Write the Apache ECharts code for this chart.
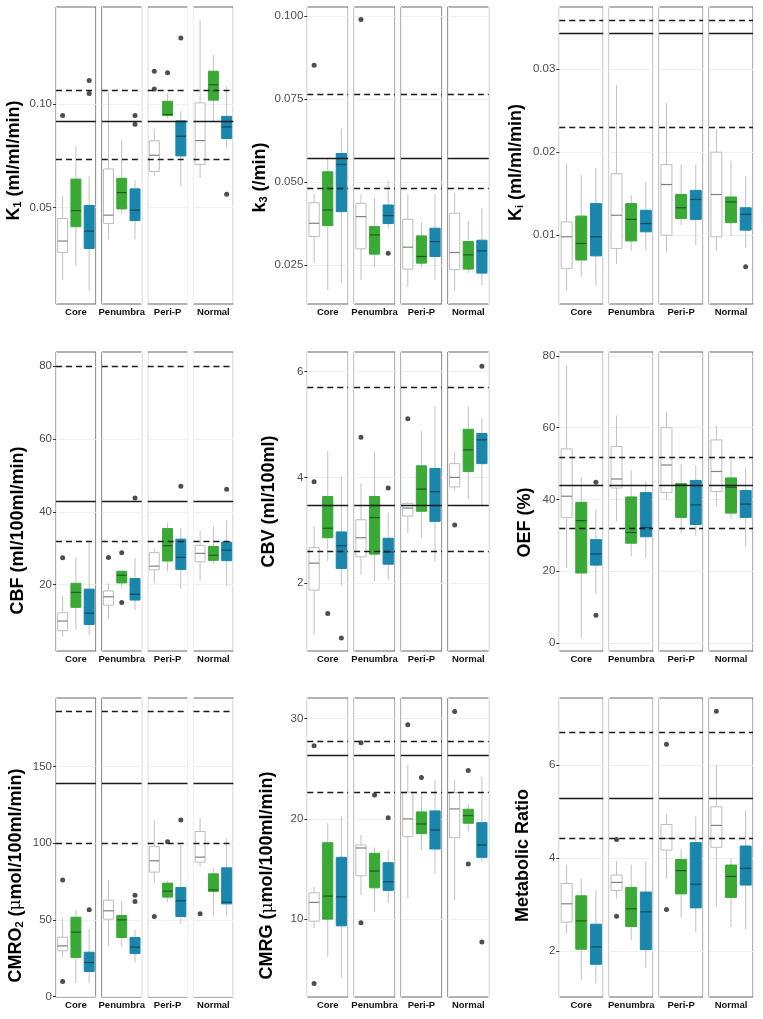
<!DOCTYPE html>
<html><head><meta charset="utf-8">
<script src="https://cdn.jsdelivr.net/npm/echarts@6/dist/echarts.min.js"></script>
<style>html,body{margin:0;padding:0;background:#fff}#chart{width:763px;height:1019px}</style>
</head><body><div id="chart"></div>
<script>
// ---------- categories ----------
const facets = ['Core', 'Penumbra', 'Peri-P', 'Normal'];
const groups = ['Group 1', 'Group 2', 'Group 3'];

// ---------- data: per facet [white, green, blue], each [min, q1, median, q3, max] ----------
const k1Boxes = [
  [[0.0149,0.0283,0.0338,0.0447,0.0556],[0.0217,0.0407,0.0485,0.0637,0.0796],[0.0098,0.0302,0.0386,0.0510,0.0651]],
  [[0.0346,0.0423,0.0463,0.0686,0.1058],[0.0468,0.0493,0.0572,0.0641,0.0825],[0.0346,0.0437,0.0487,0.0590,0.0632]],
  [[0.0653,0.0674,0.0752,0.0822,0.0881],[0.0930,0.0944,0.0949,0.1013,0.1050],[0.0603,0.0749,0.0844,0.0918,0.0965]],
  [[0.0643,0.0707,0.0823,0.1005,0.1404],[0.0913,0.1018,0.1093,0.1158,0.1235],[0.0785,0.0833,0.0889,0.0940,0.1085]]
];
const k1Outliers = [[0,0,0.0944],[0,2,0.1113],[0,2,0.1050],[1,2,0.0944],[1,2,0.0902],[2,0,0.1158],[2,0,0.1072],[2,1,0.1150],[2,2,0.1318],[3,2,0.0564]];
const k1Ref = [0.0917, 0.0735, 0.1068];
const k1Ticks = [0.05, 0.10];

const k3Boxes = [
  [[0.0256,0.0336,0.0376,0.0438,0.0466],[0.0175,0.0369,0.0416,0.0531,0.0570],[0.0196,0.0411,0.0553,0.0586,0.0661]],
  [[0.0205,0.0299,0.0396,0.0436,0.0463],[0.0245,0.0283,0.0341,0.0366,0.0451],[0.0360,0.0375,0.0399,0.0431,0.0504]],
  [[0.0185,0.0238,0.0304,0.0388,0.0463],[0.0245,0.0256,0.0276,0.0338,0.0379],[0.0205,0.0276,0.0321,0.0361,0.0464]],
  [[0.0173,0.0236,0.0288,0.0406,0.0469],[0.0226,0.0238,0.0281,0.0321,0.0383],[0.0190,0.0226,0.0293,0.0325,0.0421]]
];
const k3Outliers = [[0,0,0.0852],[1,0,0.0989],[1,2,0.0286]];
const k3Ref = [0.0572, 0.0481, 0.0765];
const k3Ticks = [0.025, 0.050, 0.075, 0.100];

const kiBoxes = [
  [[0.0033,0.0060,0.0098,0.0116,0.0186],[0.0050,0.0070,0.0090,0.0123,0.0172],[0.0039,0.0075,0.0098,0.0138,0.0181]],
  [[0.0065,0.0084,0.0124,0.0174,0.0281],[0.0081,0.0093,0.0119,0.0138,0.0148],[0.0081,0.0104,0.0114,0.0130,0.0164]],
  [[0.0080,0.0100,0.0161,0.0185,0.0259],[0.0112,0.0120,0.0133,0.0149,0.0185],[0.0088,0.0119,0.0143,0.0154,0.0185]],
  [[0.0081,0.0098,0.0149,0.0200,0.0228],[0.0099,0.0115,0.0140,0.0146,0.0190],[0.0085,0.0106,0.0125,0.0133,0.0171]]
];
const kiOutliers = [[3,2,0.0062]];
const kiRef = [0.0343, 0.0230, 0.0359];
const kiTicks = [0.01, 0.02, 0.03];

const cbfBoxes = [
  [[5.75,7.4,10.05,12.33,16.9],[7.8,13.8,17.9,20.4,27.5],[6.2,9.1,12.2,18.8,31.8]],
  [[10.6,14.4,16.7,18.3,20.4],[19.0,20.5,22.6,23.7,24.0],[13.1,15.8,17.4,21.7,27.4]],
  [[20.4,24.1,25.1,28.8,30.0],[23.7,26.5,30.7,35.4,37.1],[18.8,24.2,27.5,32.5,35.6]],
  [[21.1,26.3,28.6,30.8,34.7],[25.8,26.7,28.1,30.5,36.1],[19.7,26.6,29.5,31.7,37.7]]
];
const cbfOutliers = [[0,0,27.4],[1,0,27.5],[1,1,28.8],[1,1,15.1],[1,2,43.8],[2,2,47.0],[3,2,46.2]];
const cbfRef = [43.0, 32.0, 80.0];
const cbfTicks = [20, 40, 60, 80];

const cbvBoxes = [
  [[1.02,1.87,2.38,2.675,3.085],[2.42,2.86,3.04,3.64,4.50],[1.95,2.28,2.71,2.97,4.0]],
  [[2.16,2.50,2.86,3.20,3.89],[2.04,2.55,3.24,3.64,4.49],[2.06,2.36,2.59,2.85,3.34]],
  [[2.95,3.27,3.42,3.51,3.53],[2.86,3.36,3.78,4.22,4.88],[2.42,3.17,3.73,4.17,5.34]],
  [[3.75,3.82,4.0,4.26,4.47],[3.59,4.11,4.52,4.91,5.34],[3.46,4.26,4.71,4.83,5.12]]
];
const cbvOutliers = [[0,0,3.92],[0,1,1.43],[0,2,0.965],[1,0,4.76],[1,2,3.80],[2,0,5.11],[3,0,3.10],[3,2,6.10]];
const cbvRef = [3.47, 2.6, 5.7];
const cbvTicks = [2, 4, 6];

const oefBoxes = [
  [[20.9,35.0,40.9,54.1,77.4],[1.5,19.5,34.1,39.2,46.2],[13.6,21.7,24.8,28.8,37.3]],
  [[33.9,43.2,45.7,54.8,63.4],[24.1,27.8,30.8,40.7,48.1],[23.6,29.6,32.2,41.9,45.0]],
  [[39.9,41.9,49.6,60.0,64.4],[30.6,35.0,44.05,44.4,49.9],[29.9,33.0,38.5,45.3,49.5]],
  [[38.1,42.2,47.8,56.6,60.6],[34.6,36.2,43.4,46.0,52.2],[26.8,35.0,38.7,42.5,49.0]]
];
const oefOutliers = [[0,2,44.8],[0,2,7.7]];
const oefRef = [44.05, 32.0, 51.8];
const oefTicks = [0, 20, 40, 60, 80];

const cmro2Boxes = [
  [[25.4,29.8,33.0,38.7,51.1],[8.7,25.4,42.0,51.7,56.5],[8.7,16.3,22.2,28.9,44.1]],
  [[33.0,50.4,55.9,62.8,76.1],[32.6,38.5,50.0,52.8,62.4],[22.2,28.0,32.2,38.5,43.5]],
  [[73.9,81.1,88.5,97.8,115.2],[61.5,64.8,68.7,73.9,75.4],[47.2,52.2,62.4,71.1,98.9]],
  [[84.8,87.6,90.9,107.6,116.3],[52.2,68.5,69.6,80.0,83.7],[52.2,60.4,61.5,83.9,103.3]]
];
const cmro2Outliers = [[0,0,75.9],[0,0,9.8],[0,2,56.5],[1,2,66.1],[1,2,62.0],[2,0,52.2],[2,1,100.9],[2,2,115.0],[3,0,53.9]];
const cmro2Ref = [139.1, 100.0, 185.9];
const cmro2Ticks = [0, 50, 100, 150];

const cmrgBoxes = [
  [[9.13,9.8,11.67,12.63,13.23],[6.23,10.0,12.3,17.63,19.57],[4.13,9.33,12.23,16.17,20.3]],
  [[12.4,14.33,17.1,17.4,18.4],[10.73,13.13,14.8,16.57,17.13],[11.57,12.87,13.73,15.63,16.9]],
  [[12.07,18.23,20.0,22.67,25.4],[16.9,18.53,19.5,20.7,22.57],[14.57,17.0,18.9,20.8,23.9]],
  [[11.9,18.13,21.0,22.63,23.9],[18.73,19.57,20.33,20.97,21.47],[15.73,16.17,17.4,19.63,24.23]]
];
const cmrgOutliers = [[0,0,27.3],[0,0,3.57],[1,0,27.6],[1,0,9.63],[1,1,22.4],[1,2,20.13],[2,0,29.4],[2,1,24.13],[3,0,30.73],[3,1,24.83],[3,1,15.5],[3,2,7.73]];
const cmrgRef = [26.33, 22.67, 27.73];
const cmrgTicks = [10, 20, 30];

const ratioBoxes = [
  [[2.38,2.624,3.018,3.455,3.85],[1.376,2.043,2.652,3.19,3.548],[1.305,1.72,2.093,2.58,3.31]],
  [[3.13,3.305,3.477,3.634,3.935],[2.237,2.53,2.91,3.37,3.864],[1.64,2.036,2.846,3.27,3.92]],
  [[3.55,4.17,4.42,4.72,4.94],[2.72,3.23,3.73,3.97,4.19],[2.42,2.93,3.44,4.33,4.89]],
  [[2.96,4.23,4.70,5.10,6.0],[2.52,3.154,3.606,3.85,3.99],[2.466,3.42,3.778,4.258,5.03]]
];
const ratioOutliers = [[1,0,4.40],[1,0,2.753],[2,0,6.44],[2,0,2.896],[3,0,7.147]];
const ratioRef = [5.283, 4.423, 6.695];
const ratioTicks = [2, 4, 6];

// ---------- styling / layout ----------
const FONT = 'Liberation Sans, Arial, Helvetica, sans-serif';
const groupFill = ['#ffffff', '#3aa935', '#1a86ab'];
const groupEdge = ['#bdbdbd', '#3aa935', '#1a86ab'];
const groupMedian = ['#808080', 'rgba(0,0,0,0.45)', 'rgba(0,0,0,0.45)'];
const whiskerColor = '#c2c2c2';

const cols = [{L: 56, R: 233.3}, {L: 307.3, R: 488.7}, {L: 559.3, R: 753}];
const rows = [{T: 7, B: 304}, {T: 352, B: 651}, {T: 698, B: 997}];
const GAP = 6;

const panels = [
  {title: '{b|K}{s|1}{b| (ml/ml/min)}', boxes: k1Boxes, out: k1Outliers, ref: k1Ref, ticks: k1Ticks, range: [0.0034, 0.1468], dec: 2, gap: 33, shift: 5},
  {title: '{b|k}{s|3}{b| (/min)}', boxes: k3Boxes, out: k3Outliers, ref: k3Ref, ticks: k3Ticks, range: [0.0133, 0.1027], dec: 3, gap: 38, shift: 22},
  {title: '{b|K}{s|i}{b| (ml/ml/min)}', boxes: kiBoxes, out: kiOutliers, ref: kiRef, ticks: kiTicks, range: [0.0017, 0.0375], dec: 2, gap: 34, shift: 7},
  {title: '{b|CBF (ml/100ml/min)}', boxes: cbfBoxes, out: cbfOutliers, ref: cbfRef, ticks: cbfTicks, range: [1.83, 83.83], dec: 0, gap: 29, shift: 29},
  {title: '{b|CBV (ml/100ml)}', boxes: cbvBoxes, out: cbvOutliers, ref: cbvRef, ticks: cbvTicks, range: [0.72, 6.37], dec: 0, gap: 29, shift: 0},
  {title: '{b|OEF (%)}', boxes: oefBoxes, out: oefOutliers, ref: oefRef, ticks: oefTicks, range: [-2.24, 81.1], dec: 0, gap: 25, shift: 21},
  {title: '{b|CMRO}{s|2}{b| (}{m|\u03bc}{b|mol/100ml/min)}', boxes: cmro2Boxes, out: cmro2Outliers, ref: cmro2Ref, ticks: cmro2Ticks, range: [-0.3, 194.6], dec: 0, gap: 31, shift: 28},
  {title: '{b|CMRG (}{m|\u03bc}{b|mol/100ml/min)}', boxes: cmrgBoxes, out: cmrgOutliers, ref: cmrgRef, ticks: cmrgTicks, range: [2.23, 32.07], dec: 0, gap: 31, shift: 28},
  {title: '{b|Metabolic Ratio}', boxes: ratioBoxes, out: ratioOutliers, ref: ratioRef, ticks: ratioTicks, range: [1.018, 7.434], dec: 0, gap: 27, shift: 8}
];

function renderBox(params, api) {
  const gi = api.value(0);
  const pMin = api.coord([gi, api.value(1)]);
  const pQ1 = api.coord([gi, api.value(2)]);
  const pMed = api.coord([gi, api.value(3)]);
  const pQ3 = api.coord([gi, api.value(4)]);
  const pMax = api.coord([gi, api.value(5)]);
  const bw = api.size([1, 0])[0] * 0.75;
  const cx = pMed[0];
  const ws = {stroke: whiskerColor, lineWidth: 1};
  return {
    type: 'group',
    children: [
      {type: 'line', shape: {x1: cx, y1: pMax[1], x2: cx, y2: pQ3[1]}, style: ws},
      {type: 'line', shape: {x1: cx, y1: pQ1[1], x2: cx, y2: pMin[1]}, style: ws},
      {type: 'rect', shape: {x: cx - bw / 2, y: pQ3[1], width: bw, height: pQ1[1] - pQ3[1]},
        style: {fill: groupFill[gi], stroke: groupEdge[gi], lineWidth: 1}},
      {type: 'line', shape: {x1: cx - bw / 2, y1: pMed[1], x2: cx + bw / 2, y2: pMed[1]},
        style: {stroke: groupMedian[gi], lineWidth: 1.2}}
    ]
  };
}

const grids = [], xAxes = [], yAxes = [], series = [];
panels.forEach((p, pi) => {
  const col = cols[pi % 3], row = rows[Math.floor(pi / 3)];
  const fw = (col.R - col.L - 3 * GAP) / 4;
  facets.forEach((f, fi) => {
    const g = grids.length;
    grids.push({
      left: col.L + fi * (fw + GAP), top: row.T, width: fw, height: row.B - row.T,
      show: true, borderColor: '#666', borderWidth: 1, backgroundColor: '#fff',
      containLabel: false, outerBoundsMode: 'none'
    });
    xAxes.push({
      gridIndex: g, type: 'category', data: groups,
      name: f, nameLocation: 'middle', nameGap: 3,
      nameTextStyle: {fontFamily: FONT, fontWeight: 'bold', fontSize: 9.5, color: '#111', verticalAlign: 'top'},
      axisLine: {show: false}, axisTick: {show: false}, axisLabel: {show: false},
      splitLine: {show: true, lineStyle: {color: '#f1f1f1', width: 1}}
    });
    const y = {
      gridIndex: g, type: 'value', min: p.range[0], max: p.range[1],
      axisLine: {show: false},
      axisTick: {show: fi === 0, length: 3, customValues: p.ticks, lineStyle: {color: '#333', width: 1}},
      axisLabel: {show: fi === 0, customValues: p.ticks, margin: 4, color: '#4d4d4d', fontSize: 11.5, fontFamily: FONT,
        formatter: (v) => Number(v).toFixed(p.dec)},
      splitLine: {show: true, lineStyle: {color: '#efefef', width: 1}}
    };
    if (fi === 0) {
      y.name = p.title;
      y.nameLocation = 'middle';
      y.nameRotate = 90;
      y.nameGap = p.gap;
      y.nameTextStyle = {
        padding: [0, 2 * p.shift, 0, 0],
        rich: {
          b: {fontFamily: FONT, fontWeight: 'bold', fontSize: 18, color: '#000'},
          s: {fontFamily: FONT, fontWeight: 'bold', fontSize: 11, color: '#000', verticalAlign: 'bottom'},
          m: {fontFamily: 'DejaVu Serif, serif', fontWeight: 'normal', fontSize: 17, color: '#000'}
        }
      };
    }
    yAxes.push(y);
    series.push({
      type: 'custom', xAxisIndex: g, yAxisIndex: g, silent: true, z: 2,
      renderItem: renderBox,
      encode: {x: 0, y: [1, 2, 3, 4, 5]},
      data: p.boxes[fi].map((b, gi) => [gi].concat(b))
    });
    series.push({
      type: 'scatter', xAxisIndex: g, yAxisIndex: g, silent: true, z: 5,
      symbolSize: 5, itemStyle: {color: '#222'},
      data: p.out.filter(o => o[0] === fi).map(o => [o[1], o[2]]),
      markLine: {
        silent: true, symbol: ['none', 'none'], label: {show: false}, animation: false, precision: 8,
        data: [
          {yAxis: p.ref[0], lineStyle: {color: '#1a1a1a', width: 1.4, type: 'solid'}},
          {yAxis: p.ref[1], lineStyle: {color: '#1a1a1a', width: 1.4, type: [6, 4]}},
          {yAxis: p.ref[2], lineStyle: {color: '#1a1a1a', width: 1.4, type: [6, 4]}}
        ]
      }
    });
  });
});

const chart = echarts.init(document.getElementById('chart'), null, {renderer: 'canvas'});
chart.setOption({
  animation: false,
  backgroundColor: '#fff',
  grid: grids, xAxis: xAxes, yAxis: yAxes, series: series
});
</script></body></html>
